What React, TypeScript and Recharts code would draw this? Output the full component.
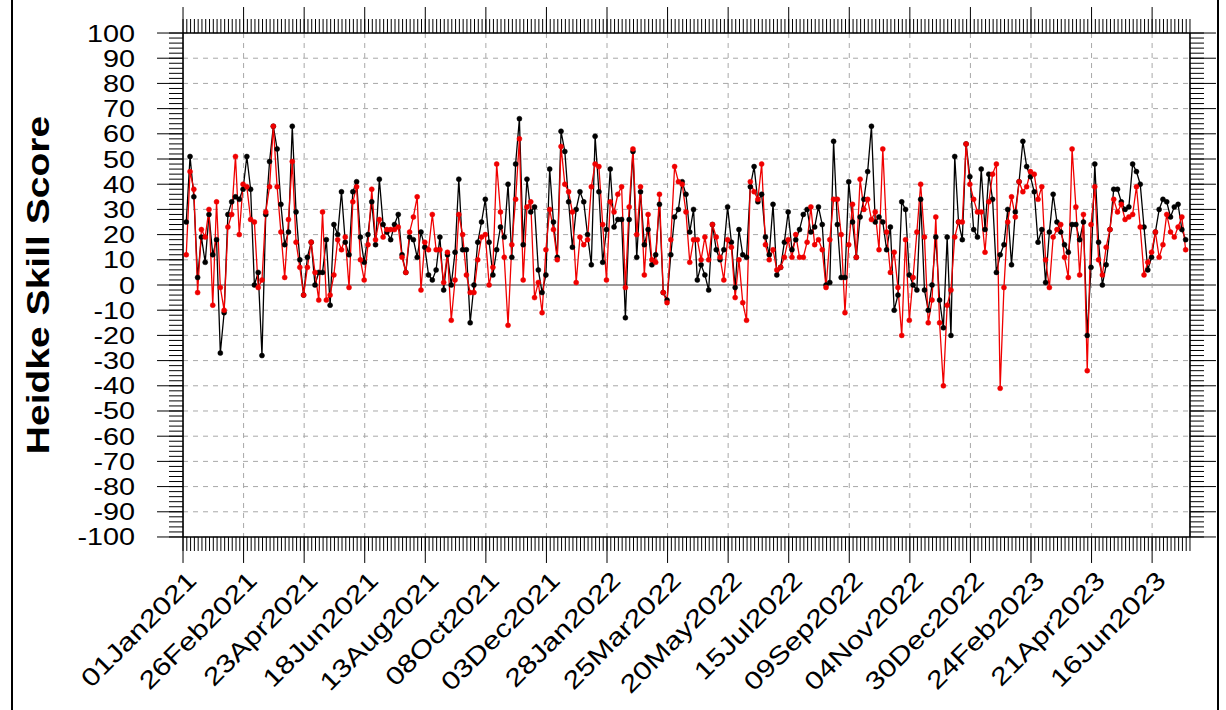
import React from 'react';
import { LineChart, Line, XAxis, YAxis, CartesianGrid, ReferenceLine } from 'recharts';

const FONT = '"Liberation Sans", Arial, Helvetica, sans-serif';

// x-axis labels, one every 56 days starting at 01Jan2021
const tickLabels = [
  '01Jan2021', '26Feb2021', '23Apr2021', '18Jun2021', '13Aug2021', '08Oct2021',
  '03Dec2021', '28Jan2022', '25Mar2022', '20May2022', '15Jul2022', '09Sep2022',
  '04Nov2022', '30Dec2022', '24Feb2023', '21Apr2023', '16Jun2023',
];

// scores, twice a week (black series)
const black2021 = [
  25, 51, 35, 3, 19, 9, 28, 12, 18, -27,
  -11, 28, 33, 35, 34, 38, 51, 38, 0, 5,
  -28, 28, 49, 63, 54, 32, 16, 21, 63, 29,
  10, -4, 11, 17, 0, 5, 5, 18, -8, 24,
  20, 37, 17, 12, 37, 41, 19, 9, 20, 33,
  16, 42, 24, 21, 18, 24, 28, 12, 5, 19,
  18, 11, 21, 15, 4, 2, 6, 19, -2, 12,
  0, 13, 42, 14, 14, -15, 0, 17, 25, 34,
  17, 4, 14, 23, 19, 40, 11, 48, 66, 16,
  42, 29, 31, 6, -3, 4, 46, 25, 11, 61,
  53, 33, 15, 30,
];
const black2022 = [
  37, 33, 20, 8, 59, 37,
  9, 22, 46, 23, 26, 26, -13, 26, 53, 11,
  37, 16, 22, 8, 12, 32, -3, -6, 12, 27,
  30, 41, 36, 21, 30, 2, 8, 4, -2, 24,
  14, 10, 14, 31, 17, -1, 22, 12, 11, 39,
  47, 33, 36, 19, 12, 32, 4, 7, 17, 29,
  14, 18, 22, 28, 30, 21, 23, 31, 24, 0,
  1, 57, 24, 3, 3, 41, 25, 11, 27, 34,
  45, 63, 25, 27, 25, 14, 23, -10, -4, 33,
  30, 4, 0, -2, 34, -2, -10, 0, 19, -6,
  -17, 19, -20, 51, 25, 18, 56, 43,
];
const black2023 = [
  22, 19,
  46, 22, 44, 34, 5, 12, 16, 30, 8, 29,
  41, 57, 47, 43, 37, 17, 22, 1, 21, 36,
  25, 21, 16, 13, 24, 24, 18, 25, -20, 7,
  48, 17, 0, 8, 22, 38, 38, 33, 30, 31,
  48, 45, 40, 23, 6, 11, 21, 30, 34, 33,
  27, 31, 32, 22, 18,
];

// red series
const red2021 = [
  12, 45, 38, -3, 22, 19, 30, -8, 33, -1,
  -10, 23, 28, 51, 20, 40, 39, 26, 25, -1,
  2, 29, 39, 63, 39, 21, 3, 26, 49, 17,
  7, -4, 7, 17, 5, -6, 29, -6, -4, 4,
  18, 14, 19, -1, 33, 39, 10, 2, 16, 38,
  18, 26, 19, 22, 22, 22, 23, 11, 5, 21,
  27, 35, -2, 17, 14, 28, 14, 14, 1, 13,
  -14, 2, 28, 20, 4, -3, -3, 10, 19, 20,
  0, 7, 48, 29, 11, -16, 16, 34, 58, 2,
  31, 33, -5, 1, -11, 14, 30, 22, 10, 55,
  40, 37, 29, 1,
];
const red2022 = [
  19, 16, 18, 39, 48, 47,
  24, 2, 33, 29, 36, 39, -1, 31, 54, 20,
  39, 4, 28, 10, 9, 36, -3, -7, 18, 47,
  41, 40, 29, 9, 18, 18, 10, 19, 10, 24,
  19, 11, 2, 18, 15, -5, 10, -7, -14, 41,
  37, 34, 48, 16, 10, 14, 6, 7, 11, 18,
  11, 20, 11, 11, 17, 31, 16, 18, 14, -1,
  18, 34, 34, 20, -11, 16, 32, 11, 42, 30,
  34, 26, 29, 14, 54, 21, 5, 13, -1, -20,
  18, -14, 3, 21, 40, 19, -15, -6, 27, -15,
  -40, -8, -2, 19, 25, 25, 56, 40,
];
const red2023 = [
  34, 29,
  29, 13, 33, 44, 48, -41, -1, 25, 35, 27,
  41, 37, 39, 45, 44, 34, 39, 10, -1, 19,
  22, 24, 11, 3, 54, 31, 4, 28, -34, 24,
  39, 10, 4, 15, 22, 34, 29, 32, 26, 27,
  28, 39, 23, 4, 9, 13, 21, 11, 16, 28,
  21, 19, 23, 27, 14,
];

const blackValues = [...black2021, ...black2022, ...black2023];
const redValues = [...red2021, ...red2022, ...red2023];

// days since 01Jan2021
const FIRST_DAY = 3;
const STEP_DAYS = 3.5;
const LAST_DAY = 931;

const rows = blackValues.map((v, i) => ({
  day: FIRST_DAY + i * STEP_DAYS,
  black: v,
  red: redValues[i],
}));

const majorDays = tickLabels.map((_, i) => i * 56);
const minorDays: number[] = [];
for (let d = 0; d <= LAST_DAY; d += 3.5) minorDays.push(d);
const yMajor: number[] = [];
for (let v = -100; v <= 100; v += 10) yMajor.push(v);
const yMinor: number[] = [];
for (let v = -100; v <= 100; v += 2) yMinor.push(v);

// axes need a non-zero size to be drawn, keep it tiny so they all sit on the frame
const THIN = 0.01;

const EmptyTick = () => <g />;

const DateTick = ({ x, y, payload }: any) => (
  <text
    transform={`translate(${x + 15},${y + 19}) rotate(-45) scale(1.22,1)`}
    textAnchor="end"
    fontSize={25}
    fontFamily={FONT}
    fill="#000"
  >
    {tickLabels[Math.round(payload.value / 56)]}
  </text>
);

const ScoreTick = ({ x, y, payload }: any) => (
  <text
    transform={`translate(${x},${y + 8.5}) scale(1.2,1)`}
    textAnchor="end"
    fontSize={24}
    fontFamily={FONT}
    fill="#000"
  >
    {payload.value}
  </text>
);

const axisLine = { stroke: '#000', strokeWidth: 1.6 };
const tickLine = { stroke: '#000', strokeWidth: 1 };

export default function App() {
  return (
    <div style={{ position: 'absolute', left: 0, top: 0, width: 1226, height: 710, background: '#fff' }}>
      <LineChart
        width={1226}
        height={710}
        data={rows}
        margin={{ top: 33, right: 36, bottom: 173, left: 183 }}
      >
        <CartesianGrid stroke="#a8a8a8" strokeDasharray="5 5" strokeWidth={1} />

        <XAxis type="number" dataKey="day" domain={[0, LAST_DAY]} allowDataOverflow ticks={majorDays}
          interval={0} height={THIN} tickSize={26} tickMargin={0} axisLine={axisLine} tickLine={tickLine}
          tick={<DateTick />} />
        <XAxis xAxisId="bMinor" type="number" dataKey="day" domain={[0, LAST_DAY]} allowDataOverflow
          ticks={minorDays} interval={0} height={THIN} tickSize={14} axisLine={false} tickLine={tickLine}
          tick={<EmptyTick />} />
        <XAxis xAxisId="tMajor" orientation="top" type="number" dataKey="day" domain={[0, LAST_DAY]}
          allowDataOverflow ticks={majorDays} interval={0} height={THIN} tickSize={26} axisLine={axisLine}
          tickLine={tickLine} tick={<EmptyTick />} />
        <XAxis xAxisId="tMinor" orientation="top" type="number" dataKey="day" domain={[0, LAST_DAY]}
          allowDataOverflow ticks={minorDays} interval={0} height={THIN} tickSize={14} axisLine={false}
          tickLine={tickLine} tick={<EmptyTick />} />

        <YAxis type="number" domain={[-100, 100]} allowDataOverflow ticks={yMajor} interval={0} width={THIN}
          tickSize={26} tickMargin={22} axisLine={axisLine} tickLine={tickLine} tick={<ScoreTick />} />
        <YAxis yAxisId="lMinor" type="number" domain={[-100, 100]} allowDataOverflow ticks={yMinor}
          interval={0} width={THIN} tickSize={14} axisLine={false} tickLine={tickLine} tick={<EmptyTick />} />
        <YAxis yAxisId="rMajor" orientation="right" type="number" domain={[-100, 100]} allowDataOverflow
          ticks={yMajor} interval={0} width={THIN} tickSize={26} axisLine={axisLine} tickLine={tickLine}
          tick={<EmptyTick />} />
        <YAxis yAxisId="rMinor" orientation="right" type="number" domain={[-100, 100]} allowDataOverflow
          ticks={yMinor} interval={0} width={THIN} tickSize={14} axisLine={false} tickLine={tickLine}
          tick={<EmptyTick />} />

        <ReferenceLine y={0} stroke="#9c9c9c" strokeWidth={2} />

        <Line type="linear" dataKey="black" stroke="#000" strokeWidth={1.3}
          dot={{ r: 2.5, fill: '#000', stroke: '#000', strokeWidth: 0.5 }} activeDot={false}
          isAnimationActive={false} />
        <Line type="linear" dataKey="red" stroke="#f00000" strokeWidth={1.3}
          dot={{ r: 2.5, fill: '#f00000', stroke: '#f00000', strokeWidth: 0.5 }} activeDot={false}
          isAnimationActive={false} />
      </LineChart>

      <div
        style={{
          position: 'absolute', left: -162, top: 265, width: 400, height: 40, lineHeight: '40px',
          textAlign: 'center', fontFamily: FONT, fontWeight: 'bold', fontSize: 32, color: '#000',
          transform: 'rotate(-90deg) scaleX(1.22)', whiteSpace: 'nowrap',
        }}
      >
        Heidke Skill Score
      </div>

      <div
        style={{
          position: 'absolute', left: 11, top: 0, width: 1204, height: 710,
          borderLeft: '2px solid #000', borderRight: '2px solid #000', pointerEvents: 'none',
        }}
      />
    </div>
  );
}
